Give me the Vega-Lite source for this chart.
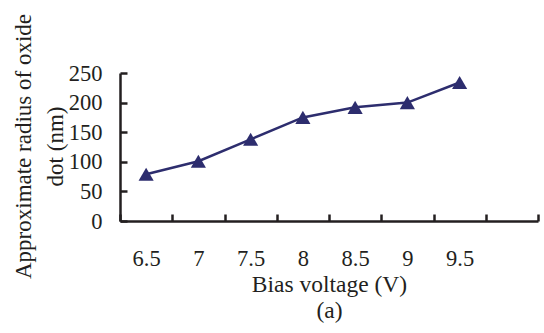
{
  "$schema": "https://vega.github.io/schema/vega-lite/v6.json",
  "autosize": {"type": "none"},
  "width": 418,
  "height": 148,
  "padding": {"left": 120, "top": 73, "right": 6, "bottom": 112},
  "background": "white",
  "config": {"view": {"stroke": null}},
  "data": {
    "values": [
      {"v": "6.5", "r": 79},
      {"v": "7", "r": 101},
      {"v": "7.5", "r": 138},
      {"v": "8", "r": 175},
      {"v": "8.5", "r": 192},
      {"v": "9", "r": 200},
      {"v": "9.5", "r": 234}
    ]
  },
  "encoding": {
    "x": {
      "field": "v",
      "type": "ordinal",
      "sort": null,
      "scale": {"type": "band", "domain": ["6.5", "7", "7.5", "8", "8.5", "9", "9.5", " "], "paddingInner": 0, "paddingOuter": 0},
      "axis": {
        "title": ["Bias voltage (V)", "(a)"],
        "titleFont": "Liberation Serif",
        "titleFontSize": 23.5,
        "titleFontWeight": "normal",
        "titleColor": "#231F20",
        "titleLineHeight": 26,
        "titleBaseline": "alphabetic",
        "titleX": 209,
        "titleY": 70,
        "labelAngle": 0,
        "labelFont": "Liberation Serif",
        "labelFontSize": 22.5,
        "labelColor": "#231F20",
        "labelPadding": 33,
        "tickBand": "extent",
        "tickSize": -7,
        "tickWidth": 2.5,
        "tickColor": "#231F20",
        "domainColor": "#231F20",
        "domainWidth": 2.5,
        "grid": false
      }
    },
    "y": {
      "field": "r",
      "type": "quantitative",
      "scale": {"domain": [0, 250], "nice": false, "zero": true},
      "axis": {
        "values": [0, 50, 100, 150, 200, 250],
        "title": ["Approximate radius of oxide", "dot (nm)"],
        "titleFont": "Liberation Serif",
        "titleFontSize": 23,
        "titleFontWeight": "normal",
        "titleColor": "#231F20",
        "titleLineHeight": 32,
        "titleBaseline": "alphabetic",
        "titleAlign": "center",
        "titleAngle": -90,
        "titleX": -90,
        "titleY": 73,
        "labelFont": "Liberation Serif",
        "labelFontSize": 22.5,
        "labelColor": "#231F20",
        "labelPadding": 25,
        "tickSize": -7,
        "tickWidth": 2.5,
        "tickColor": "#231F20",
        "domainColor": "#231F20",
        "domainWidth": 2.5,
        "grid": false
      }
    }
  },
  "layer": [
    {"mark": {"type": "line", "color": "#2D2D6E", "strokeWidth": 2.5}},
    {"mark": {"type": "point", "shape": "triangle-up", "filled": true, "color": "#2D2D6E", "opacity": 1, "size": 230}}
  ]
}
